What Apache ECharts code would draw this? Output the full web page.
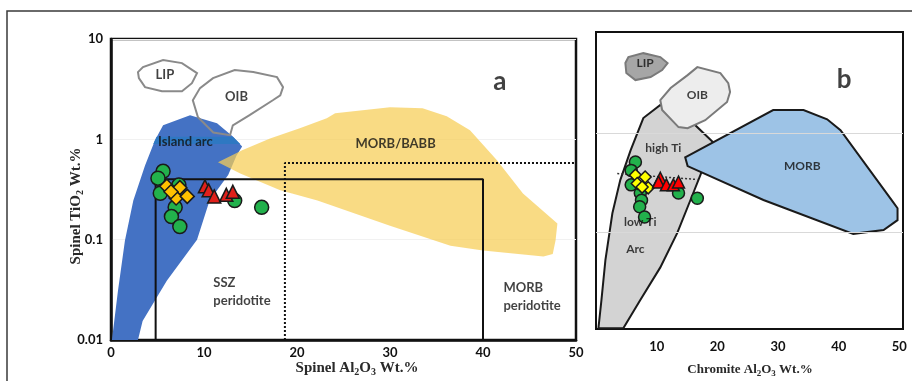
<!DOCTYPE html>
<html><head><meta charset="utf-8">
<script src="https://cdn.jsdelivr.net/npm/echarts@6/dist/echarts.min.js"></script>
<style>html,body{margin:0;padding:0;background:#fff}#c{width:912px;height:381px}</style>
</head><body><div id="c"></div>
<script>
// ---------- Panel a (Spinel) ----------
const xTicksA = [0, 10, 20, 30, 40, 50];
const yTicksA = [0.01, 0.1, 1, 10];
// Island arc field
const arcAx = [0.1, 0.75, 1.5, 2.4, 3.66, 4.73, 5.6, 8.5, 11.4, 13.1, 14.1, 13.5, 12.6, 10.6, 9.25, 6.0, 3.4, 2.9];
const arcAy = [0.01, 0.031, 0.098, 0.245, 0.55, 0.98, 1.38, 1.74, 1.45, 1.07, 0.85, 0.69, 0.44, 0.245, 0.1, 0.039, 0.0155, 0.01];
// lighter band across the island arc field at TiO2 = 1
const bandAx = [4.55, 4.9, 13.1, 13.9];
const bandAy = [0.90, 1.06, 1.06, 0.90];
// MORB/BABB field
const morbAx = [11.5, 14.1, 17.1, 20.3, 23.2, 24.1, 30.0, 33.5, 36.1, 38.6, 41.5, 44.3, 48.0, 47.8, 47.5, 46.5, 40.0, 36.5, 30.0, 22.2, 18.2, 13.9];
const morbAy = [0.59, 0.78, 1.02, 1.29, 1.62, 1.82, 2.09, 2.04, 1.70, 1.23, 0.62, 0.288, 0.145, 0.098, 0.072, 0.068, 0.078, 0.087, 0.138, 0.245, 0.31, 0.457];
// LIP outline
const lipAx = [2.9, 3.44, 5.6, 7.63, 9.25, 8.7, 7.63, 5.48, 3.66, 3.0];
const lipAy = [4.68, 5.25, 6.17, 5.75, 4.57, 3.63, 3.02, 3.02, 3.31, 4.07];
// OIB outline
const oibAx = [8.8, 9.57, 10.97, 13.3, 15.3, 17.85, 18.5, 18.2, 17.4, 14.9, 13.1, 12.8, 11.0, 9.35];
const oibAy = [2.45, 3.24, 4.07, 4.9, 4.68, 4.17, 3.31, 2.75, 2.45, 1.74, 1.38, 1.10, 1.17, 1.66];
// SSZ peridotite box and MORB peridotite (dotted) box
const sszX = [4.8, 4.8, 40, 40];
const sszY = [0.01, 0.4, 0.4, 0.01];
const morbPerX = [18.7, 18.7, 50];
const morbPerY = [0.01, 0.58, 0.58];
// samples
const greenAx = [5.6, 5.05, 5.3, 7.3, 6.9, 6.5, 7.4, 13.3, 16.2];
const greenAy = [0.48, 0.41, 0.29, 0.35, 0.21, 0.17, 0.135, 0.245, 0.21];
const diaAx = [6.0, 7.4, 7.0, 8.2, 6.45];
const diaAy = [0.34, 0.33, 0.26, 0.27, 0.30];
const triAx = [10.1, 10.5, 11.1, 12.4, 13.1];
const triAy = [0.34, 0.31, 0.27, 0.28, 0.30];

// ---------- Panel b (Chromite) ----------
const xTicksB = [10, 20, 30, 40, 50];
const gridLinesB = [1, 0.1];
const arcBx = [0.4, 4.5, 7.3, 10.6, 13.4, 15.9, 17.2, 19.3, 15.5, 10.6, 7.8, 5.7, 4.0, 2.7, 1.55, 0.9];
const arcBy = [0.0107, 0.0107, 0.0206, 0.044, 0.098, 0.237, 0.376, 0.81, 1.35, 1.92, 1.42, 0.67, 0.335, 0.155, 0.052, 0.0207];
const morbBx = [14.7, 29.2, 34.2, 38.1, 40.3, 49.0, 49.7, 49.7, 47.4, 42.4, 27.6, 15.1];
const morbBy = [0.57, 1.71, 1.71, 1.38, 1.07, 0.20, 0.174, 0.132, 0.105, 0.096, 0.211, 0.464];
const lipBx = [4.84, 5.34, 7.8, 10.6, 11.8, 10.9, 9.0, 6.5, 5.0];
const lipBy = [5.1, 5.86, 6.42, 5.86, 5.1, 4.33, 3.68, 3.43, 4.04];
const oibBx = [10.6, 12.3, 15.1, 16.7, 20.5, 21.8, 22.1, 21.6, 18.0, 15.1, 13.6, 10.9];
const oibBy = [2.15, 2.85, 3.85, 4.64, 4.04, 3.2, 2.6, 2.06, 1.35, 1.12, 1.15, 1.71];
const tiDivX = [3.5, 16.7];
const tiDivY = [0.39, 0.34];
const greenBx = [6.5, 5.8, 5.8, 7.3, 7.5, 7.2, 8.0, 13.6, 16.7];
const greenBy = [0.51, 0.42, 0.30, 0.248, 0.21, 0.18, 0.142, 0.248, 0.22];
const diaBx = [6.5, 8.1, 6.8, 8.6, 7.6];
const diaBy = [0.376, 0.36, 0.31, 0.28, 0.285];
const triBx = [10.6, 10.3, 11.6, 12.75, 13.6];
const triBy = [0.35, 0.32, 0.30, 0.30, 0.32];

// annotation texts (data coordinates)
const notesA = [
  ['LIP', 5.8, 4.37], ['OIB', 13.5, 2.63], ['Island arc', 8.0, 0.955], ['MORB/BABB', 30.6, 0.91]
];
const notesAleft = [['SSZ\nperidotite', 11.0, 0.030], ['MORB\nperidotite', 42.2, 0.027]];
const notesB = [
  ['LIP', 8.1, 5.1], ['OIB', 16.7, 2.42], ['high Ti', 11.1, 0.705], ['MORB', 34.0, 0.464],
  ['low Ti', 7.3, 0.126], ['Arc', 6.5, 0.067]
];
const bigA = [['a', 41.8, 3.8]];
const bigB = [['b', 40.9, 3.43]];

const zip = (xs, ys) => xs.map((x, i) => [x, ys[i]]);
const FONT = 'Lato';

function poly(xs, ys, gi, style, z) {
  const data = zip(xs, ys);
  return {
    type: 'custom', xAxisIndex: gi, yAxisIndex: gi, data: data, z: z, silent: true,
    renderItem: function (params, api) {
      if (params.dataIndex !== 0) return null;
      const pts = data.map(d => api.coord(d));
      return { type: 'polygon', shape: { points: pts }, style: style };
    }
  };
}
function line(xs, ys, gi, color, width, type, z) {
  return { type: 'line', xAxisIndex: gi, yAxisIndex: gi, data: zip(xs, ys), symbol: 'none', z: z, silent: true,
    lineStyle: { color: color, width: width, type: type } };
}
function pts(xs, ys, gi, symbol, size, color, z) {
  return { type: 'scatter', xAxisIndex: gi, yAxisIndex: gi, data: zip(xs, ys), symbol: symbol, symbolSize: size, z: z,
    itemStyle: { color: color, borderColor: '#1a1a1a', borderWidth: 1.5, opacity: 1 } };
}
function notes(arr, gi, size, align, lineH) {
  return { type: 'scatter', xAxisIndex: gi, yAxisIndex: gi, symbolSize: 0, z: 20, silent: true,
    data: arr.map(a => ({ name: a[0], value: [a[1], a[2]] })),
    label: { show: true, position: 'inside', formatter: '{b}', color: '#111', fontFamily: FONT,
      fontWeight: 'bold', fontSize: size, align: align, verticalAlign: 'middle', lineHeight: lineH } };
}

const axisLabelStyle = { color: '#111', fontFamily: FONT, fontWeight: 'bold', fontSize: 13 };

const gridLineSeries = {
  type: 'line', xAxisIndex: 1, yAxisIndex: 1, data: [], z: 1, silent: true,
  markLine: { silent: true, symbol: 'none', label: { show: false },
    lineStyle: { color: '#d9d9d9', width: 1, type: 'solid' },
    data: gridLinesB.map(v => ({ yAxis: v })) }
};

const chart = echarts.init(document.getElementById('c'), null, { renderer: 'canvas' });
chart.setOption({
  animation: false,
  backgroundColor: '#fff',
  grid: [
    { left: 111, top: 39, width: 465, height: 301, show: true, borderColor: '#111', borderWidth: 2.5, backgroundColor: 'transparent' },
    { left: 596, top: 32, width: 307, height: 297, show: true, borderColor: '#111', borderWidth: 2, backgroundColor: 'transparent' }
  ],
  xAxis: [
    { gridIndex: 0, type: 'value', min: 0, max: 50, interval: 10,
      axisLine: { show: true, lineStyle: { color: '#111', width: 2.5 } }, axisTick: { show: false },
      splitLine: { show: false }, axisLabel: Object.assign({ margin: 6 }, axisLabelStyle) },
    { gridIndex: 1, type: 'value', min: 0, max: 50.6, interval: 10,
      axisLine: { show: true, lineStyle: { color: '#111', width: 2 } }, axisTick: { show: false },
      splitLine: { show: false },
      axisLabel: Object.assign({ margin: 11, showMinLabel: false, showMaxLabel: false,
        formatter: v => (xTicksB.indexOf(Math.round(v)) >= 0 && Math.abs(v - Math.round(v)) < 1e-6) ? String(v) : '' }, axisLabelStyle) }
  ],
  yAxis: [
    { gridIndex: 0, type: 'log', logBase: 10, min: 0.01, max: 10,
      axisLine: { show: true, lineStyle: { color: '#111', width: 2.5 } }, axisTick: { show: false },
      splitLine: { show: true, lineStyle: { color: '#f1f1f1', width: 1 } },
      axisLabel: Object.assign({ margin: 8, formatter: v => String(+v.toPrecision(3)) }, axisLabelStyle) },
    { gridIndex: 1, type: 'log', logBase: 10, min: 0.0105, max: 10.5,
      axisLine: { show: true, lineStyle: { color: '#111', width: 2 } }, axisTick: { show: false },
      splitLine: { show: false }, axisLabel: { show: false } }
  ],
  graphic: [
    { type: 'polyline', silent: true, z: 0, shape: { points: [[7, 400], [7, 11], [920, 11]] },
      style: { stroke: '#3a3a3a', lineWidth: 1.5, fill: null } },
    { type: 'text', silent: true, x: 357, y: 368,
      style: { text: '{n|Spinel Al}{s|2}{n|O}{s|3}{n| Wt.%}', align: 'center', verticalAlign: 'middle',
        rich: { n: { fontFamily: 'Liberation Serif', fontWeight: 'bold', fontSize: 15, fill: '#2a2a2a' },
                s: { fontFamily: 'Liberation Serif', fontWeight: 'bold', fontSize: 10, fill: '#2a2a2a', padding: [8, 0, 0, 0] } } } },
    { type: 'text', silent: true, x: 750, y: 370,
      style: { text: '{n|Chromite Al}{s|2}{n|O}{s|3}{n| Wt.%}', align: 'center', verticalAlign: 'middle',
        rich: { n: { fontFamily: 'Liberation Serif', fontWeight: 'bold', fontSize: 13, fill: '#2a2a2a' },
                s: { fontFamily: 'Liberation Serif', fontWeight: 'bold', fontSize: 9, fill: '#2a2a2a', padding: [7, 0, 0, 0] } } } },
    { type: 'text', silent: true, x: 76, y: 206, rotation: Math.PI / 2,
      style: { text: '{n|Spinel TiO}{s|2}{n| Wt.%}', align: 'center', verticalAlign: 'middle',
        rich: { n: { fontFamily: 'Liberation Serif', fontWeight: 'bold', fontSize: 15, fill: '#2a2a2a' },
                s: { fontFamily: 'Liberation Serif', fontWeight: 'bold', fontSize: 10, fill: '#2a2a2a', padding: [8, 0, 0, 0] } } } }
  ],
  series: [
    poly(arcAx, arcAy, 0, { fill: '#4472C4', stroke: null }, 2),
    poly(bandAx, bandAy, 0, { fill: '#2E78C2', stroke: null }, 2),
    poly(morbAx, morbAy, 0, { fill: 'rgba(247,205,85,0.72)', stroke: null }, 3),
    poly(lipAx, lipAy, 0, { fill: 'transparent', stroke: '#8a8a8a', lineWidth: 2 }, 4),
    poly(oibAx, oibAy, 0, { fill: 'transparent', stroke: '#8a8a8a', lineWidth: 2 }, 4),
    line(sszX, sszY, 0, '#111', 2, 'solid', 5),
    line(morbPerX, morbPerY, 0, '#111', 2, [2, 2], 5),
    pts(greenAx, greenAy, 0, 'circle', 14, '#22B14C', 10),
    pts(diaAx, diaAy, 0, 'diamond', 14, '#FFC000', 11),
    pts(triAx, triAy, 0, 'triangle', 13, '#E0201B', 11),
    notes(notesA, 0, 13, 'center', 16),
    notes(notesAleft, 0, 13, 'left', 18),
    notes(bigA, 0, 26, 'center', 28),

    gridLineSeries,
    poly(arcBx, arcBy, 1, { fill: '#D3D3D3', stroke: '#1a1a1a', lineWidth: 2 }, 2),
    poly(morbBx, morbBy, 1, { fill: '#9DC3E6', stroke: '#1a1a1a', lineWidth: 2 }, 3),
    poly(lipBx, lipBy, 1, { fill: '#A6A6A6', stroke: '#7a7a7a', lineWidth: 2 }, 3),
    poly(oibBx, oibBy, 1, { fill: '#EDEDED', stroke: '#7a7a7a', lineWidth: 2 }, 3),
    line(tiDivX, tiDivY, 1, '#333', 1.5, [2, 2], 5),
    pts(greenBx, greenBy, 1, 'circle', 12, '#22B14C', 10),
    pts(diaBx, diaBy, 1, 'diamond', 12, '#FFFF00', 11),
    pts(triBx, triBy, 1, 'triangle', 12, '#FF0000', 11),
    notes(notesB, 1, 12, 'center', 14),
    notes(bigB, 1, 26, 'center', 28)
  ]
});
</script></body></html>
